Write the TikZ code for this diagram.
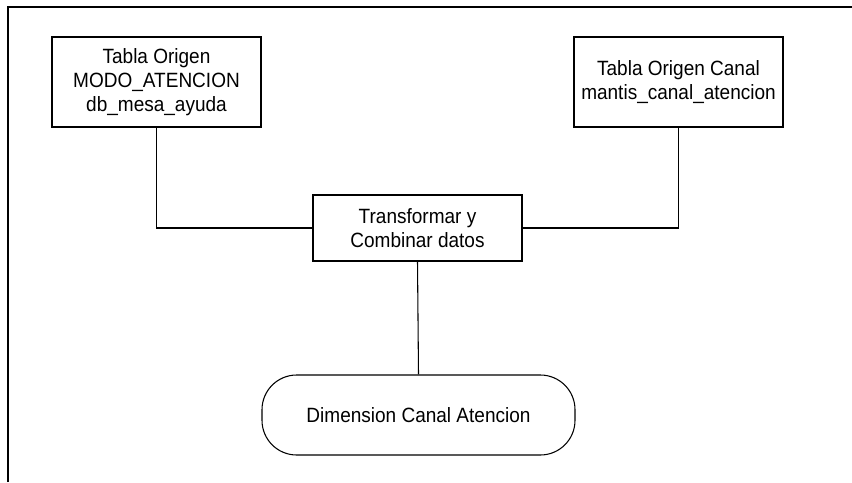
\documentclass[tikz,border=0pt]{standalone}
\usepackage{fontspec}
\setmainfont[FakeStretch=0.92]{Liberation Sans}
\begin{document}
\begin{tikzpicture}[x=0.75pt,y=-0.75pt,
  every node/.style={font=\fontsize{15.5pt}{17.8pt}\selectfont, align=center, inner sep=0pt},
  tablebox/.style={draw, line width=0.8pt, minimum width=156.75pt, minimum height=67.5pt},
  procbox/.style={draw, line width=0.8pt, minimum width=156.75pt, minimum height=49.5pt},
  termbox/.style={draw, line width=0.8pt, rounded corners=26pt, minimum width=234.75pt, minimum height=60pt},
  link/.style={draw, line width=0.8pt}]
  \useasboundingbox (0,0) rectangle (852,482);
  % page frame (left and top edges only)
  \draw[line width=0.9pt] (8,482) -- (8,7) -- (852,7);

  \node[tablebox] (orig1) at (156.5,82) {Tabla Origen\\MODO\_ATENCION\\db\_mesa\_ayuda};
  \node[tablebox] (orig2) at (678.5,82) {Tabla Origen Canal\\mantis\_canal\_atencion};
  \node[procbox] (trans) at (417.5,228) {Transformar y\\Combinar datos};
  \node[termbox] (dim) at (418.5,415) {Dimension Canal Atencion};

  \path[link] (orig1.south) |- (trans.west);
  \path[link] (orig2.south) |- (trans.east);
  \path[link] (trans.south) -- (dim.north);
\end{tikzpicture}
\end{document}
